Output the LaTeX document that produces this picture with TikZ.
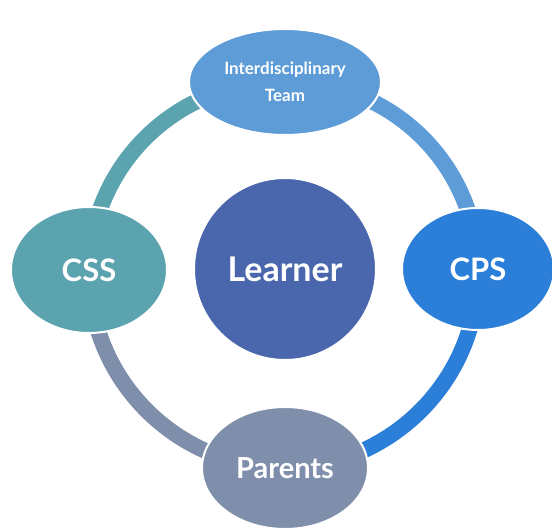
\documentclass[tikz,border=0pt]{standalone}
\usepackage{fontspec}
\setmainfont{Lato}
\usepackage{tikz}
\usetikzlibrary{shapes.geometric,positioning}
\pgfdeclarelayer{edgelayer}
\pgfdeclarelayer{nodelayer}
\pgfsetlayers{edgelayer,nodelayer,main}
\definecolor{teamblue}{HTML}{5D9CD6}
\definecolor{cssteal}{HTML}{5BA3AF}
\definecolor{cpsblue}{HTML}{2C7FD8}
\definecolor{parentgray}{HTML}{7F8EAA}
\definecolor{learnblue}{HTML}{4A67AD}
\tikzset{
  blob/.style={ellipse,draw=white,line width=2pt,inner sep=0pt,text=white,align=center},
  ring/.style={line width=16pt,bend left=45}
}

\begin{document}
\begin{tikzpicture}[x=1pt,y=-1pt]
\useasboundingbox (0,0) rectangle (552,529);
\node[blob,fill=learnblue,circle,minimum size=182pt,font=\bfseries\fontsize{34}{36}\selectfont] (L) at (285,269) {Learner};
\node[blob,fill=teamblue,minimum width=192pt,minimum height=106pt,font=\bfseries\fontsize{17}{27}\selectfont] (T) at (285,82) {Interdisciplinary\\Team};
\node[blob,fill=cssteal,minimum width=156pt,minimum height=126pt,font=\bfseries\fontsize{31}{34}\selectfont] (S) at (89,270) {CSS};
\node[blob,fill=cpsblue,minimum width=152pt,minimum height=122pt,font=\bfseries\fontsize{31}{34}\selectfont] (P) at (478,269) {CPS};
\node[blob,fill=parentgray,minimum width=166pt,minimum height=122pt,font=\bfseries\fontsize{29}{32}\selectfont] (R) at (285,468) {Parents};
\begin{pgfonlayer}{edgelayer}
\path[ring]
(S.center) edge[draw=cssteal] (T.center)
(T.center) edge[draw=teamblue] (P.center)
(P.center) edge[draw=cpsblue] (R.center)
(R.center) edge[draw=parentgray] (S.center);
\end{pgfonlayer}
\end{tikzpicture}
\end{document}
